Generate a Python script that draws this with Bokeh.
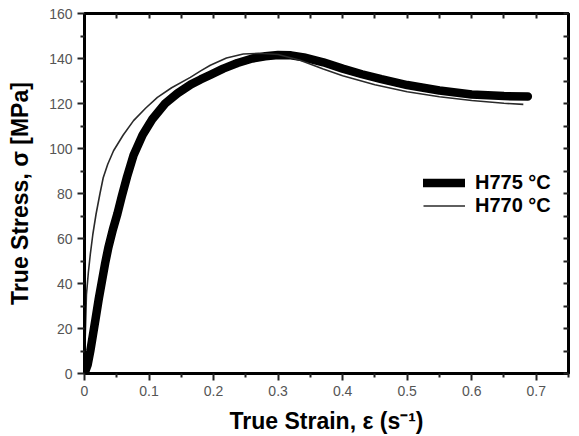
from bokeh.plotting import figure
from bokeh.models import FixedTicker, LinearAxis, Legend, LegendItem, Range1d
from bokeh.embed import file_html
from bokeh.resources import INLINE

# H775 °C (thick curve)
strain_775 = [0.0, 0.005, 0.009, 0.013, 0.017, 0.022, 0.027, 0.032, 0.037, 0.044, 0.051,
              0.058, 0.066, 0.076, 0.09, 0.105, 0.125, 0.144, 0.165, 0.18, 0.195, 0.215,
              0.237, 0.26, 0.28, 0.30, 0.32, 0.34, 0.37, 0.40, 0.43, 0.46, 0.50, 0.55,
              0.60, 0.65, 0.687]
stress_775 = [0, 4, 10, 17, 24, 33, 41, 49, 56, 64, 71,
              79, 87.5, 97, 106, 113, 120, 124.5, 128.5, 130.7, 132.7, 135.5,
              138, 140, 141, 141.6, 141.4, 140.5, 138.3, 135.5, 133, 130.8, 128.2, 125.8,
              124, 123.3, 123.1]

# H770 °C (thin curve)
strain_770 = [0.0, 0.001, 0.003, 0.006, 0.009, 0.013, 0.018, 0.024, 0.029, 0.036, 0.045,
              0.06, 0.076, 0.095, 0.113, 0.135, 0.164, 0.18, 0.195, 0.22, 0.246, 0.27,
              0.30, 0.334, 0.37, 0.40, 0.45, 0.50, 0.55, 0.60, 0.65, 0.68]
stress_770 = [0, 15, 35, 45, 53, 62, 71, 80, 87, 93, 99,
              106, 112.4, 118, 122.7, 127, 131.6, 134.5, 137, 140.2, 142, 142.3,
              141.8, 139.2, 135.3, 132.3, 128.3, 125.2, 123, 121.3, 120.1, 119.6]

x_ticks = [0.0, 0.1, 0.2, 0.3, 0.4, 0.5, 0.6, 0.7]
x_minor = [0.05, 0.15, 0.25, 0.35, 0.45, 0.55, 0.65, 0.75]
y_ticks = [0, 20, 40, 60, 80, 100, 120, 140, 160]
y_minor = [10, 30, 50, 70, 90, 110, 130, 150]
series_labels = ["H775 °C", "H770 °C"]

FONT = "Liberation Sans"
TICK_COLOR = "#222222"

p = figure(width=579, height=436, output_backend="svg", toolbar_location=None,
           x_range=Range1d(0, 0.75), y_range=Range1d(0, 160),
           min_border_left=84, min_border_right=11, min_border_top=13, min_border_bottom=63)
p.xgrid.visible = False
p.ygrid.visible = False
p.outline_line_color = "black"
p.outline_line_width = 3

r775 = p.line(strain_775, stress_775, line_color="black", line_width=8.5, line_cap="round",
              line_join="round")
r770 = p.line(strain_770, stress_770, line_color="#2a2a2a", line_width=1.6)

xa = p.xaxis[0]
ya = p.yaxis[0]
xa.ticker = FixedTicker(ticks=x_ticks, minor_ticks=x_minor)
ya.ticker = FixedTicker(ticks=y_ticks, minor_ticks=y_minor)
xa.axis_label = "True Strain, ε (s⁻¹)"
ya.axis_label = "True Stress, σ [MPa]"
for ax in (xa, ya):
    ax.axis_line_width = 3
    ax.major_tick_in = 0
    ax.minor_tick_in = 0
    ax.major_tick_out = 7
    ax.minor_tick_out = 4
    ax.major_tick_line_color = TICK_COLOR
    ax.minor_tick_line_color = TICK_COLOR
    ax.major_tick_line_width = 2
    ax.minor_tick_line_width = 2
    ax.major_label_text_font = FONT
    ax.major_label_text_font_size = "14px"
    ax.major_label_text_color = "#555555"
    ax.axis_label_text_font = FONT
    ax.axis_label_text_font_size = "23px"
    ax.axis_label_text_font_style = "bold"
    ax.axis_label_text_color = "black"
xa.axis_label_standoff = 9
ya.axis_label_standoff = 13

# top and right axes: inward ticks, no labels
top_ticks = sorted(x_ticks + x_minor)
right_ticks = sorted(y_ticks + y_minor)
ta = LinearAxis(ticker=FixedTicker(ticks=top_ticks, minor_ticks=[]),
                major_label_overrides={t: "" for t in top_ticks})
ra = LinearAxis(ticker=FixedTicker(ticks=right_ticks, minor_ticks=[]),
                major_label_overrides={t: "" for t in right_ticks})
for ax in (ta, ra):
    ax.axis_line_width = 3
    ax.major_tick_in = 5
    ax.major_tick_out = 0
    ax.major_tick_line_color = TICK_COLOR
    ax.major_tick_line_width = 2
    ax.major_label_standoff = 0
p.add_layout(ta, "above")
p.add_layout(ra, "right")

legend = Legend(items=[LegendItem(label=series_labels[0], renderers=[r775]),
                       LegendItem(label=series_labels[1], renderers=[r770])],
                location=(339, 156))
legend.border_line_color = None
legend.background_fill_alpha = 0
legend.padding = 0
legend.margin = 0
legend.spacing = 0
legend.glyph_width = 42
legend.glyph_height = 23
legend.label_height = 23
legend.label_standoff = 10
legend.label_text_font = FONT
legend.label_text_font_size = "20px"
legend.label_text_font_style = "bold"
legend.label_text_color = "black"
p.add_layout(legend)

open("out.html", "w").write(file_html(p, INLINE))
